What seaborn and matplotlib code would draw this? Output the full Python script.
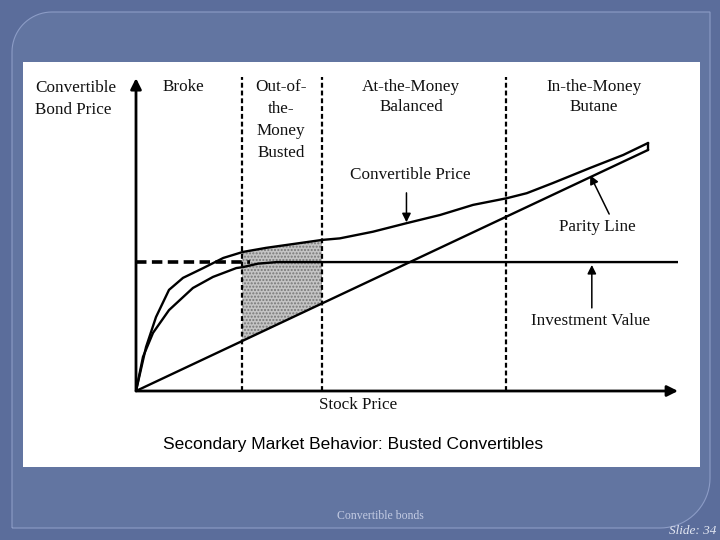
"""Secondary market behavior of busted convertibles (slide 34 redraw)."""

import numpy as np
import matplotlib
matplotlib.use('Agg')
import matplotlib.pyplot as plt
from matplotlib.patches import Rectangle, PathPatch
from matplotlib.path import Path
import seaborn as sns

# Chart units: stock price 0-100 across, bond price 0-100 up.
conv_x = [0, 1.85, 3.69, 6.09, 8.67, 12.4, 16.1, 19.7, 24.0, 34.3, 37.6,
          43.7, 49.9, 56.1, 62.2, 68.4, 72.1, 76.9, 83.8, 89.9, 94.5]
conv_y = [0, 13.9, 23.4, 32.0, 35.8, 38.9, 42.1, 44.0, 45.3, 47.8, 48.3,
          50.4, 53.1, 55.7, 58.9, 61.0, 62.6, 65.8, 70.6, 74.7, 78.5]

# straight bond value curve that flattens into the investment value floor
bond_x = [0, 1.29, 3.14, 6.09, 10.5, 14.2, 18.5, 19.7, 22.5, 26.0, 100]
bond_y = [0, 10.8, 18.4, 25.6, 32.6, 36.1, 38.9, 39.2, 40.3, 40.8, 40.8]

parity_x = [0, 94.5]
parity_y = [0, 76.3]

invest_level = 40.8
invest_dash_end = 21.0

zone_edges = [19.6, 34.3, 68.3]
zone_names = [['Broke'],
              ['Out-of-', 'the-', 'Money', 'Busted'],
              ['At-the-Money', 'Balanced'],
              ['In-the-Money', 'Butane']]

SERIF = ['Liberation Serif', 'DejaVu Serif']
SANS = ['Liberation Sans', 'DejaVu Sans']

sns.set_style('white')

fig = plt.figure(figsize=(7.2, 5.4), dpi=100)
fig.patch.set_facecolor('#5b6d9b')

# --- slide decoration, in pixel coordinates ---
bg = fig.add_axes([0, 0, 1, 1])
bg.set_xlim(0, 720)
bg.set_ylim(540, 0)
bg.axis('off')

# inner panel with rounded top-left and bottom-right corners
t1 = np.linspace(np.pi, 1.5 * np.pi, 20)
t2 = np.linspace(0, 0.5 * np.pi, 20)
verts = [(12, 528)]
verts += [(52 + 40 * np.cos(t), 52 + 40 * np.sin(t)) for t in t1]
verts += [(710, 12)]
verts += [(660 + 50 * np.cos(t), 478 + 50 * np.sin(t)) for t in t2]
verts += [(12, 528)]
panel = PathPatch(Path(verts), facecolor='#6275a1', edgecolor='#8c9cc6', lw=0.8)
bg.add_patch(panel)
bg.add_patch(Rectangle((23, 62), 677, 405, facecolor='white', edgecolor='none'))

bg.text(380, 516, 'Convertible bonds', ha='center', va='center',
        fontsize=8.5, color='#c3cbe3', family=SERIF)
bg.text(716, 531, 'Slide: 34', ha='right', va='center', fontsize=9.5,
        style='italic', color='#e4e8f3', family=SERIF)
bg.text(353, 444, 'Secondary Market Behavior: Busted Convertibles',
        ha='center', va='center', fontsize=12.5, color='#000000', family=SANS)

# --- the diagram itself ---
ax = fig.add_axes([136 / 720, (540 - 391) / 540, 542 / 720, 316 / 540])
ax.set_xlim(0, 100)
ax.set_ylim(0, 100)
ax.axis('off')

# shaded busted region between parity and convertible price
fx = np.linspace(zone_edges[0], zone_edges[1], 60)
ax.fill_between(fx, np.interp(fx, parity_x, parity_y), np.interp(fx, conv_x, conv_y),
                facecolor='#c4c4c4', edgecolor='#777777', hatch='.....', lw=0)

for xe in zone_edges:
    ax.plot([xe, xe], [0, 99.5], color='black', lw=1.6,
            linestyle=(0, (2.2, 1.3)), clip_on=False)

sns.lineplot(x=conv_x, y=conv_y, ax=ax, color='black', lw=1.7, sort=False, estimator=None)
sns.lineplot(x=bond_x, y=bond_y, ax=ax, color='black', lw=1.7, sort=False, estimator=None)
sns.lineplot(x=parity_x, y=parity_y, ax=ax, color='black', lw=1.7, sort=False, estimator=None)
# closed tip joining parity and convertible price ends
ax.plot([parity_x[-1], conv_x[-1]], [parity_y[-1], conv_y[-1]], color='black', lw=1.7)
ax.plot([0, invest_dash_end], [invest_level, invest_level], color='black', lw=2.6,
        linestyle=(0, (2.9, 1.5)))

# axes with arrow heads
axis_arrow = dict(arrowstyle='-|>', color='black', lw=2.0, mutation_scale=16,
                  shrinkA=0, shrinkB=0)
ax.annotate('', xy=(0, 99), xytext=(0, 0), arrowprops=axis_arrow, annotation_clip=False)
ax.annotate('', xy=(100, 0), xytext=(0, 0), arrowprops=axis_arrow, annotation_clip=False)

# pointer arrows for the line labels
ptr = dict(arrowstyle='-|>', color='black', lw=1.1, mutation_scale=13, shrinkA=0, shrinkB=0)
cx = 49.9
ax.annotate('', xy=(cx, np.interp(cx, conv_x, conv_y) + 0.3), xytext=(cx, 62.7),
            arrowprops=ptr)
px = 83.8
ax.annotate('', xy=(px, np.interp(px, parity_x, parity_y) + 0.6), xytext=(87.3, 56.0),
            arrowprops=ptr)
ix = 84.1
ax.annotate('', xy=(ix, invest_level - 0.9), xytext=(ix, 26.3), arrowprops=ptr)

# --- labels (pixel coordinates) ---
lab = dict(ha='center', va='center', fontsize=12.3, color='#111111', family=SERIF)
bg.text(35, 88, 'Convertible', ha='left', va='center', fontsize=12.3,
        color='#111111', family=SERIF)
bg.text(35, 110, 'Bond Price', ha='left', va='center', fontsize=12.3,
        color='#111111', family=SERIF)

zone_label_x = [183, 281, 411, 594]
zone_line_gap = [22, 22, 20, 20]
for lx, gap, lines in zip(zone_label_x, zone_line_gap, zone_names):
    for k, s in enumerate(lines):
        bg.text(lx, 87 + k * gap, s, **lab)

bg.text(410, 175, 'Convertible Price', **lab)
bg.text(597, 227, 'Parity Line', **lab)
bg.text(591, 321, 'Investment Value', **lab)
bg.text(358, 405, 'Stock Price', **lab)

plt.savefig('out.png', dpi=100, facecolor=fig.get_facecolor())
plt.close()
